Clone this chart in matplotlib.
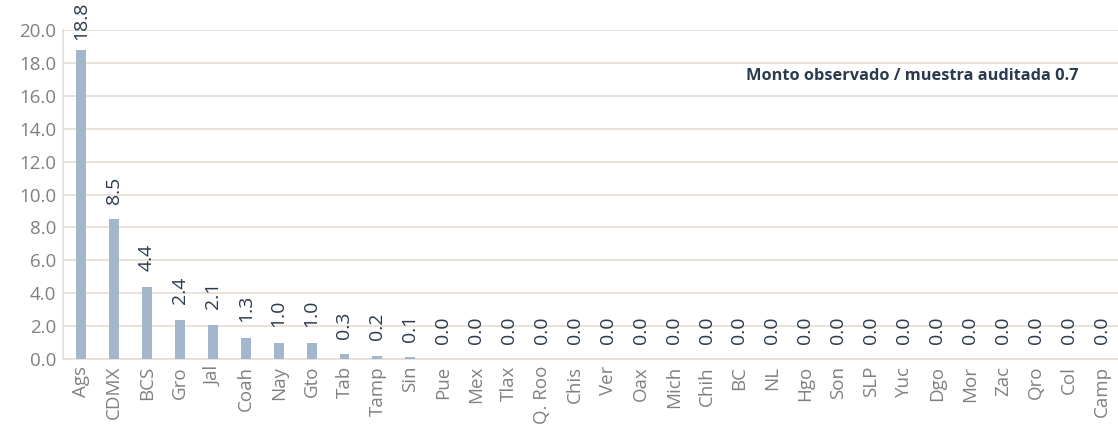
import numpy as np
import matplotlib.pyplot as plt

plt.rcParams['font.family'] = ['Open Sans', 'DejaVu Sans']

estados = ['Ags', 'CDMX', 'BCS', 'Gro', 'Jal', 'Coah', 'Nay', 'Gto', 'Tab', 'Tamp',
           'Sin', 'Pue', 'Mex', 'Tlax', 'Q. Roo', 'Chis', 'Ver', 'Oax', 'Mich', 'Chih',
           'BC', 'NL', 'Hgo', 'Son', 'SLP', 'Yuc', 'Dgo', 'Mor', 'Zac', 'Qro', 'Col', 'Camp']
valores = [18.8, 8.5, 4.4, 2.4, 2.1, 1.3, 1.0, 1.0, 0.3, 0.2,
           0.1, 0.0, 0.0, 0.0, 0.0, 0.0, 0.0, 0.0, 0.0, 0.0,
           0.0, 0.0, 0.0, 0.0, 0.0, 0.0, 0.0, 0.0, 0.0, 0.0, 0.0, 0.0]
nota = 'Monto observado / muestra auditada 0.7'

fig = plt.figure(figsize=(11.18, 4.3), dpi=100)
ax = fig.add_axes([0.0564, 0.165, 0.9436, 0.765])

x = np.arange(len(estados))
ax.bar(x, valores, width=0.3, color='#a3b6cc', zorder=3)

for xi, v in zip(x, valores):
    # la etiqueta mas alta queda pegada al borde superior
    off = 7 if v > 18 else 11
    ax.annotate('%.1f' % v, (xi, v), xytext=(0, off), textcoords='offset points',
                rotation=90, ha='center', va='bottom', fontsize=14,
                color='#2b3a4c', zorder=4)

ax.set_xlim(-0.55, len(estados) - 0.5)
ax.set_ylim(0, 20)
ax.set_yticks(np.arange(0, 21, 2))
ax.set_yticklabels(['%.1f' % t for t in np.arange(0, 21, 2)])
ax.set_xticks(x)
ax.set_xticklabels(estados, rotation=90, ha='center', va='top')

ax.grid(axis='y', color='#e6dfd8', linewidth=1.3, zorder=0)
for s in ['top', 'right']:
    ax.spines[s].set_visible(False)
for s in ['left', 'bottom']:
    ax.spines[s].set_color('#e6dfd8')
    ax.spines[s].set_linewidth(1.3)
ax.tick_params(length=0, labelsize=13.5, labelcolor='#808080', pad=5)

ax.text(25.25, 17.2, nota, ha='center', va='center', fontsize=11.8,
        fontweight='bold', color='#2b3a4c')

fig.savefig('out.png', dpi=100)
